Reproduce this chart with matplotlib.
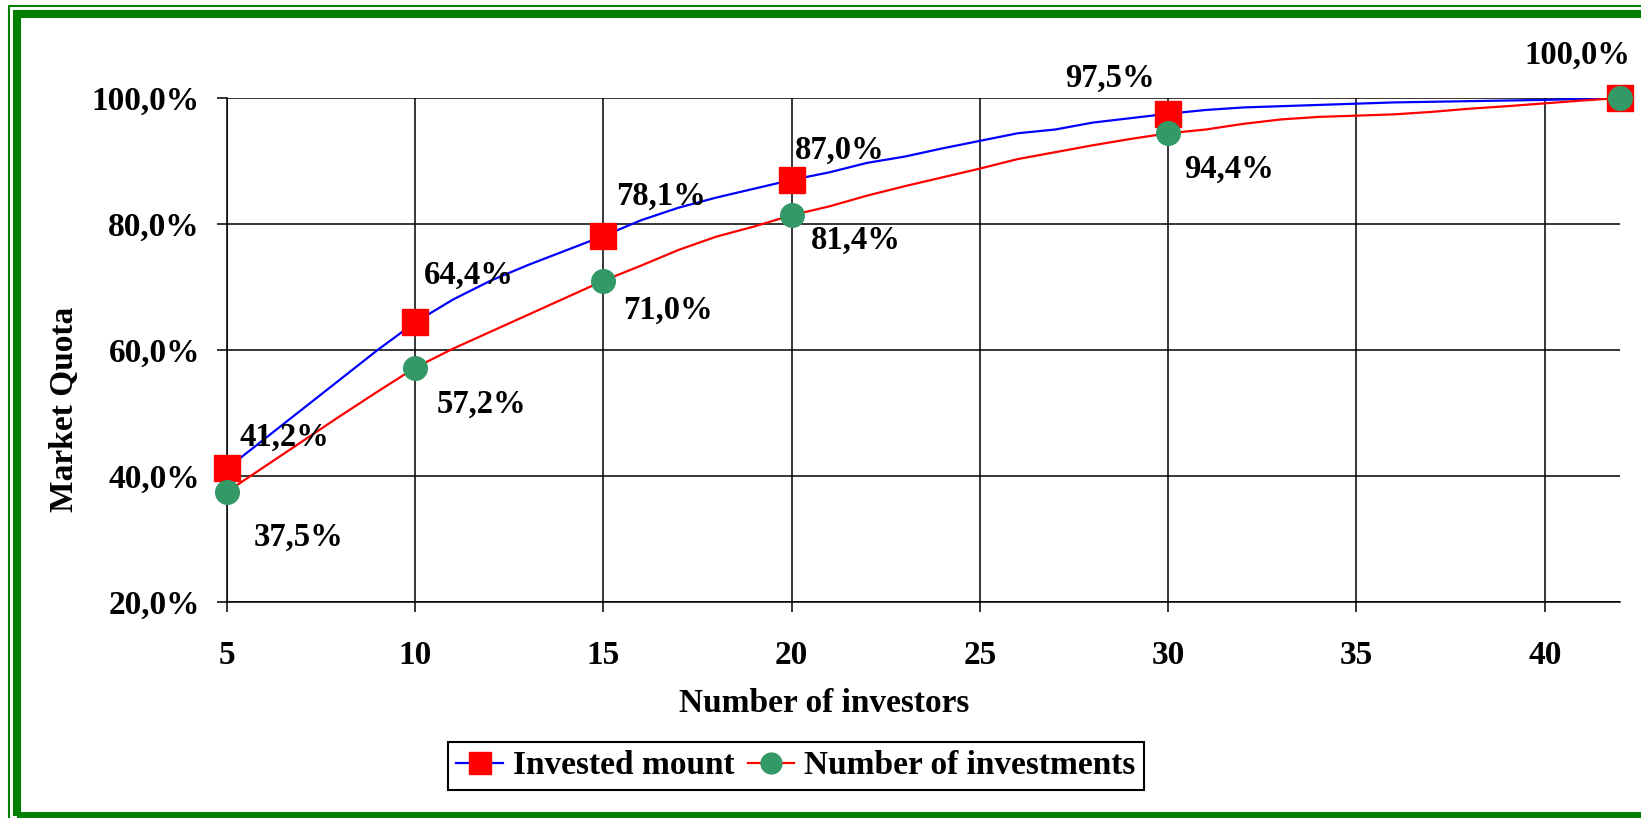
import numpy as np
import matplotlib
matplotlib.use("Agg")
import matplotlib.pyplot as plt
from matplotlib.lines import Line2D
from matplotlib.patches import Rectangle

plt.rcParams['font.family'] = ['Liberation Serif', 'DejaVu Serif']
plt.rcParams['font.weight'] = 'bold'

# number of investors (one point per investor)
investors = list(range(5, 43))
invested = [41.2, 45.9, 50.6, 55.3, 60.0, 64.4, 68.0, 71.0, 73.5, 75.8,
            78.1, 80.6, 82.6, 84.2, 85.6, 87.0, 88.2, 89.7, 90.7, 92.0,
            93.2, 94.4, 95.0, 96.1, 96.8, 97.5, 98.1, 98.5, 98.7, 98.9,
            99.1, 99.3, 99.4, 99.5, 99.6, 99.7, 99.85, 100.0]
n_invest = [37.5, 41.5, 45.5, 49.5, 53.4, 57.2, 60.2, 62.9, 65.6, 68.3,
            71.0, 73.4, 75.9, 78.0, 79.6, 81.4, 82.8, 84.5, 86.0, 87.4,
            88.8, 90.3, 91.4, 92.5, 93.5, 94.4, 95.0, 95.9, 96.6, 97.0,
            97.2, 97.4, 97.8, 98.3, 98.7, 99.15, 99.6, 100.0]

# marked points with labels
mark_x = [5, 10, 15, 20, 30, 42]
mark_inv = [41.2, 64.4, 78.1, 87.0, 97.5, 100.0]
mark_num = [37.5, 57.2, 71.0, 81.4, 94.4, 100.0]
lab_inv = ["41,2%", "64,4%", "78,1%", "87,0%", "97,5%", "100,0%"]
lab_num = ["37,5%", "57,2%", "71,0%", "81,4%", "94,4%", ""]

yticks = [20, 40, 60, 80, 100]
ytick_labels = ["20,0%", "40,0%", "60,0%", "80,0%", "100,0%"]
xticks = [5, 10, 15, 20, 25, 30, 35, 40]

W, H = 1641, 818
fig = plt.figure(figsize=(W / 100, H / 100), dpi=100)
ax = fig.add_axes([227 / W, 1 - 602 / H, (1620 - 227) / W, (602 - 98) / H])

ax.plot(investors, invested, color='#0000FF', lw=1.6, zorder=3)
ax.plot(investors, n_invest, color='#FF0000', lw=1.6, zorder=3)
ax.plot(mark_x, mark_inv, ls='none', marker='s', ms=18.5, color='#FF0000',
        mec='#FF0000', zorder=4, clip_on=False)
ax.plot(mark_x, mark_num, ls='none', marker='o', ms=17, color='#339966',
        mec='#339966', zorder=5, clip_on=False)

# label offsets in pixels (left edge / vertical centre)
off_inv = [(13, 31, 'left'), (9, 47, 'left'), (13, 40, 'left'), (3, 30, 'left'),
           (-58, 35, 'center'), (-43, 43, 'center')]
off_num = [(27, -46, 'left'), (21, -37, 'left'), (20, -30, 'left'),
           (19, -25, 'left'), (16, -36, 'left'), (0, 0, 'left')]
for x, y, t, (dx, dy, ha) in zip(mark_x, mark_inv, lab_inv, off_inv):
    ax.annotate(t, (x, y), xytext=(dx, dy), textcoords='offset pixels',
                ha=ha, va='center', fontsize=23.5, fontweight='bold', zorder=6)
for x, y, t, (dx, dy, ha) in zip(mark_x, mark_num, lab_num, off_num):
    if t:
        ax.annotate(t, (x, y), xytext=(dx, dy), textcoords='offset pixels',
                    ha=ha, va='center', fontsize=23.5, fontweight='bold', zorder=6)

ax.set_xlim(5, 42)
ax.set_ylim(20, 100)
ax.set_xticks(xticks)
ax.set_yticks(yticks)
ax.set_yticklabels(ytick_labels)
ax.grid(True, color='black', lw=1.1)
ax.set_axisbelow(True)
for s in ['top', 'right']:
    ax.spines[s].set_visible(False)
for s in ['left', 'bottom']:
    ax.spines[s].set_linewidth(1.1)
ax.tick_params(axis='both', direction='out', length=7.5, width=1.1,
               labelsize=24)
ax.tick_params(axis='y', pad=12)
ax.tick_params(axis='x', pad=20)
ax.set_xlabel("Number of investors", fontsize=24, fontweight='bold')
ax.set_ylabel("Market Quota", fontsize=24, fontweight='bold')
ax.yaxis.set_label_coords(65 / W, 0.5, transform=fig.transFigure)
ax.xaxis.set_label_coords(824 / W, 1 - 703 / H, transform=fig.transFigure)
ax.yaxis.label.set_va('center')
ax.xaxis.label.set_va('center')

handles = [Line2D([], [], color='#0000FF', lw=1.6, marker='s', ms=16,
                  mfc='#FF0000', mec='#FF0000'),
           Line2D([], [], color='#FF0000', lw=1.6, marker='o', ms=15,
                  mfc='#339966', mec='#339966')]
leg = fig.legend(handles, ["Invested mount", "Number of investments"],
                 loc='center', bbox_to_anchor=(796 / W, 1 - 766 / H),
                 ncol=2, fontsize=24, frameon=True, fancybox=False,
                 edgecolor='black', framealpha=1, handlelength=1.4,
                 handletextpad=0.3, columnspacing=0.4, borderpad=0.25,
                 borderaxespad=0)
leg.get_frame().set_linewidth(1.5)
for t in leg.get_texts():
    t.set_fontweight('bold')

# green double frame (cropped at right and bottom)
fig.add_artist(Rectangle((9 / W, 1 - 830 / H), 1700 / W, 824 / H,
                         transform=fig.transFigure, fill=False,
                         edgecolor='#008000', lw=1.5))
fig.add_artist(Rectangle((17 / W, 1 - 816 / H), 1700 / W, 802 / H,
                         transform=fig.transFigure, fill=False,
                         edgecolor='#008000', lw=5.8))

fig.savefig("out.png", dpi=100)
